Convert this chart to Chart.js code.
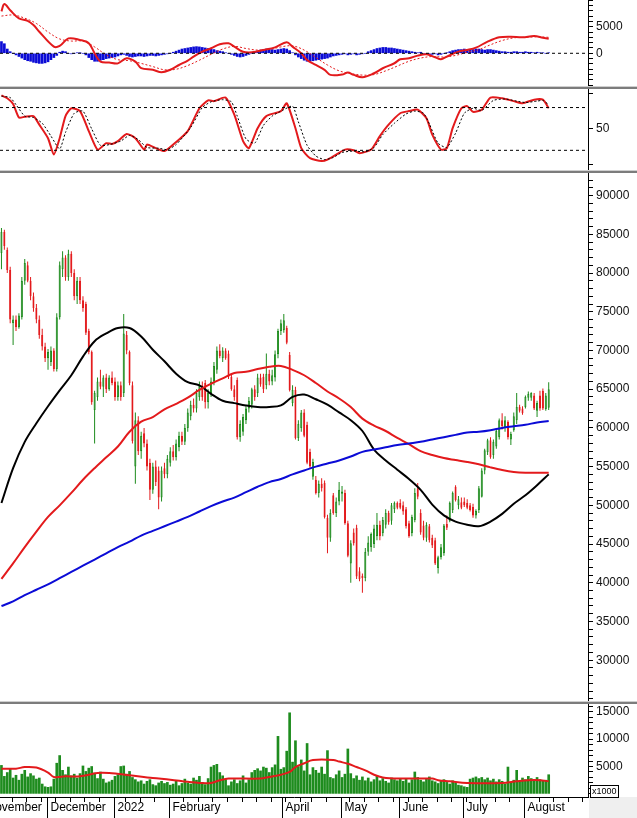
<!DOCTYPE html>
<html>
<head>
<meta charset="utf-8">
<script src="https://cdn.jsdelivr.net/npm/chart.js@4.4.1/dist/chart.umd.min.js"></script>
<style>
  html, body { margin: 0; padding: 0; background: #fff; }
  #wrap { position: relative; width: 637px; height: 818px; overflow: hidden; }
  canvas { position: absolute; left: 0; }
  .sep { position: absolute; left: 0; width: 637px; height: 3px; box-sizing: border-box;
         background: #7c7c7c; border-top: 1px solid #cfcfcf; }
</style>
</head>
<body>
<div id="wrap">
  <canvas id="macd" style="top:0px" width="637" height="86"></canvas>
  <div class="sep" style="top:86px"></div>
  <canvas id="stoch" style="top:89px" width="637" height="81"></canvas>
  <div class="sep" style="top:170px"></div>
  <canvas id="price" style="top:173px" width="637" height="528"></canvas>
  <div class="sep" style="top:701px"></div>
  <canvas id="vol" style="top:704px" width="637" height="114"></canvas>
</div>
<script>
// ---- daily candles, 9 Nov 2021 .. 11 Aug 2022 ----
const open = [
  82600,85300,83000,80400,73500,74000,73000,74300,79000,81000,
  79000,77000,75500,74000,72000,70500,69000,68500,70000,67600,
  74300,80500,82000,79500,82500,80000,77000,79000,76500,76000,
  72500,69800,62300,64000,66000,65300,66500,65000,66500,66000,
  64000,65500,64500,72000,69800,65500,55000,61000,57000,59300,
  58000,55500,52000,55000,54500,51000,54800,54000,55500,57000,
  56200,57500,59000,58200,60000,61500,63000,62500,64000,65500,
  65800,63300,64500,66000,67500,70000,69000,70000,69600,66600,
  65000,66200,58800,59500,61000,62500,63000,65000,64500,66500,
  66600,65500,67000,66000,66500,69500,72500,72600,72900,69400,
  63200,64900,58700,60000,62000,60400,56900,53700,53300,51600,
  52800,52900,48400,45800,51300,49000,50500,51500,51600,47700,
  42500,46500,47100,41500,40900,40600,44000,44600,45000,46000,
  47500,46400,47500,49000,48000,49500,50300,50300,50000,49500,
  47700,46400,48100,52200,49000,47400,45800,47300,45800,45500,
  41900,43300,43800,47600,48000,49400,52400,50000,50400,50500,
  50300,50000,49800,48700,49400,51100,54500,56900,58400,56500,
  57600,58800,61000,60000,60800,58500,59700,61000,62700,62500,
  62700,63900,63900,64200,62200,64200,64800,62400,62600
];
const high = [
  85800,85600,83300,80800,74500,74500,74800,79500,81800,81500,
  79500,77500,76000,74500,72800,71000,70200,70500,70300,74800,
  81500,82800,82300,83000,82800,80500,79500,79500,77000,76300,
  72800,70000,64800,66500,67500,66800,67000,66800,67300,66500,
  66000,66000,74700,72500,70000,66000,62000,61500,59500,60000,
  58500,56000,55500,55800,55000,55000,55500,56500,57500,57800,
  58500,59500,59500,60500,62500,63500,63800,65000,66000,66000,
  66200,65000,66500,68500,70500,70800,70400,70300,70000,67000,
  65500,66500,61000,61800,62800,64000,65200,65500,67000,67000,
  67000,69600,67500,67500,70000,72800,74000,74700,73200,69800,
  65500,65300,61000,62300,62400,60800,57300,56000,53800,53200,
  53500,53200,48800,49500,51600,51000,53000,52500,52000,48000,
  45500,47000,47500,42000,41200,44500,46000,46500,47500,49000,
  48000,48500,49500,49300,50300,50500,50500,50800,50500,49800,
  48000,48800,52200,52900,49500,48000,47800,47600,46200,45800,
  43500,45000,47600,48700,50500,51800,52600,51200,51000,51000,
  50800,50300,50200,49500,52500,54800,57300,58600,58800,58500,
  59800,61200,61900,61500,61000,59500,62000,64500,63000,62800,
  64200,64700,64600,64500,63500,64800,65100,64500,65900
];
const low = [
  80500,83000,80000,73500,70700,72500,72800,74000,78500,78800,
  76500,75000,73500,71500,70000,68500,67500,68000,67300,67300,
  74000,79500,79000,79000,79500,76500,76000,76000,75000,72000,
  69500,63000,58000,63500,65000,64000,64500,64800,65500,63500,
  63500,63500,64000,69500,65500,58000,52800,56500,56000,57500,
  54500,50700,51500,52500,49500,50500,53500,53500,55000,55800,
  55800,57000,57800,57800,59500,61000,62000,62000,63500,63500,
  62500,62500,64000,65500,67000,69000,68500,68800,66300,64800,
  63500,58500,58200,59000,60500,62000,62500,63500,64000,65300,
  64500,65000,65500,65500,66000,69000,72000,72300,70800,64700,
  62800,58500,58300,59500,58800,55300,54800,53300,51400,51000,
  51800,48300,43800,45300,48800,48500,50000,50500,47500,43300,
  40000,44800,40500,40200,38700,40200,43500,44000,44500,45500,
  45500,46000,47000,47500,47500,49000,49500,49500,48800,47000,
  45800,46000,47800,50800,46200,45500,45300,45200,44500,42300,
  41200,43000,43500,46800,47800,49000,50500,49500,49500,49800,
  49500,49200,48400,48300,49000,51000,54000,56500,56000,56000,
  57300,58500,59800,59500,58500,57800,59500,60500,62000,61700,
  62500,63500,63500,62300,61400,62200,62300,62200,62300
];
const close = [
  85300,83500,80400,74000,74000,73000,74500,79000,81300,79000,
  77000,75500,74000,72000,70500,69000,69800,70000,67600,74300,
  81000,82000,79500,82500,80000,77000,79000,76500,75500,72300,
  69800,63300,64500,66000,65300,66500,65000,66500,65800,64000,
  65500,64000,72200,70000,65800,58300,61000,57000,59000,58000,
  55000,52000,55000,53000,51000,54500,54000,56000,57000,56200,
  58000,59000,58200,60000,62000,63000,62500,64500,65500,64000,
  63300,64500,66000,68000,70000,69300,70000,69000,66600,65000,
  64000,58800,60500,61400,62500,63500,65000,64000,66500,65600,
  65000,67000,66000,66800,69500,72500,73500,73900,71000,64900,
  64900,58700,60500,62000,59000,55500,55000,55600,51600,52800,
  52200,48500,45800,49000,49000,50500,52000,51800,47700,43500,
  45100,45100,40800,40500,40600,44000,45200,46300,47000,47500,
  46000,48100,49000,47800,50000,50300,49700,49700,49200,47300,
  46000,48500,51600,51100,46500,45800,47500,45500,44800,42500,
  43300,44600,47400,47100,50300,51600,50700,50800,49700,50000,
  49700,49400,48700,49300,52200,54500,57100,58400,56200,58200,
  59600,61000,60200,61000,58800,59200,61500,62700,62200,61900,
  64000,64400,64500,62500,63200,62500,62500,64200,65000
];
const volume = [
  5200,3200,3900,4600,2900,3400,2500,3600,4300,3100,3700,3300,2700,2900,1800,1300,
  1200,1300,2700,5600,7000,4300,3500,4900,3300,3600,2900,3700,5100,4100,4700,5000,3800,2800,4000,2700,2000,2200,2500,
  3200,3500,5000,5100,3600,4100,3000,2600,2200,2400,1800,2300,2600,1700,1500,2000,2300,1900,2100,
  1600,1800,2400,1500,1900,2700,2000,1800,2900,2500,3200,2100,1700,2800,4900,5200,
  5400,3900,3300,2600,1500,2200,2600,1900,2400,3300,2000,2600,3900,4300,4600,4200,4900,4700,3900,4800,5300,10500,4500,
  4800,7800,14800,5800,9700,5000,6200,4200,9200,3500,4800,4300,3800,4900,3600,7900,3000,2800,3500,4200,
  3000,3600,8200,3700,2800,3300,2500,3100,2400,2900,2200,2600,3300,2400,2800,2300,2000,2900,2600,2400,
  2800,2300,2700,2000,2600,4000,3000,2500,2200,2800,3100,2400,2200,1900,2300,2600,2100,1800,2400,2000,1600,1500,
  1300,1200,2700,2900,3100,2800,3000,2600,2900,2400,2700,2200,2600,2300,1800,4900,2100,2500,4300,2400,2900,
  2600,3200,2800,2500,3000,2600,2300,2500,3500
];
const macdHist = [
  2200,1800,800, 300,0,-300,
  -600,-900,-1200,-1400,-1500,-1700,-1800,-1900,-1900,-1800,-1600,-1200,-800,-400,
  200,400,300,0,-100,0,100,100,0,
  -300,-800,-1200,-1500,-1500,-1300,-1200,-1000,-900,-800,-700,-500,
  -300,-200,-400,-600,-700,-600,-500,-500,-600,-500,-400,-400,-500,-400,-300,-200,-100,0,
  200,400,600,800,900,1000,1100,1200,1250,1200,1100,1000,900,800,700,500,400,300,100,0,
  -200,-400,-600,-700,-600,-400,-200,0,
  200,400,600,700,800,800,700,600,700,800,900,800,500,100,
  -300,-700,-1000,-1300,-1500,-1500,-1400,-1300,-1200,-1100,-1000,-900,-700,-500,-400,
  -300,-200,-100,-300,-200,-100,-300,-200,-100,0,
  300,500,700,900,1000,1100,1100,1000,1000,900,800,700,600,500,400,300,200,100,
  200,0,-200,-300,-200,-100,-300,-200,0,
  100,300,500,600,700,700,800,700,600,700,800,800,700,600,700,700,600,500,400,300,300,200,
  200,300,300,200,200,300,200,200,100,200,100,100,0,100
];

// ---- indicator lines: [bar index, value] ----
const maBlack = [[0,50300],[4,54800],[8,58200],[12,60600],[16,62800],[20,64850],[24,66800],[28,69200],[32,71200],[36,72200],[40,72900],[44,72900],[48,71800],[52,70100],[56,68600],[60,67000],[64,65900],[68,65500],[72,64400],[76,63500],[80,63200],[84,62900],[88,62700],[92,62700],[96,62900],[100,64000],[104,64300],[108,63700],[112,63000],[116,62000],[120,61000],[124,59600],[128,57200],[132,55800],[136,54600],[140,53400],[144,52000],[148,50100],[152,48700],[156,47900],[160,47500],[164,47300],[168,47900],[172,48900],[176,50200],[180,51300],[184,52600],[188,54000]];
const maRed = [[0,40500],[4,42500],[8,44600],[12,46600],[16,48500],[20,50000],[24,51600],[28,53300],[32,54800],[36,56200],[40,57600],[44,59500],[48,60800],[52,61400],[56,62400],[60,63100],[64,63900],[68,64900],[72,65700],[76,66400],[80,67100],[84,67250],[88,67600],[92,67900],[96,68000],[100,67500],[104,66800],[108,65800],[112,64700],[116,63800],[120,62700],[124,61200],[128,60300],[132,59600],[136,58700],[140,57900],[144,57000],[148,56500],[152,56100],[156,55850],[160,55600],[164,55300],[168,54900],[172,54550],[176,54300],[180,54200],[184,54200],[188,54200]];
const maBlue = [[0,37000],[4,37600],[8,38400],[12,39100],[16,39800],[20,40600],[24,41400],[28,42200],[32,43000],[36,43800],[40,44600],[44,45300],[48,46100],[52,46700],[56,47300],[60,47900],[64,48500],[68,49200],[72,49900],[76,50500],[80,51000],[84,51700],[88,52400],[92,53000],[96,53400],[100,54000],[104,54500],[108,55000],[112,55400],[116,55800],[120,56300],[124,56900],[128,57200],[132,57500],[136,57800],[140,58000],[144,58200],[148,58500],[152,58800],[156,59100],[160,59400],[164,59500],[168,59700],[172,60000],[176,60200],[180,60400],[184,60700],[188,60900]];
const volMa = [[0,4600],[5,4600],[8,4900],[12,4800],[16,3900],[18,3100],[22,3200],[27,3200],[33,3800],[37,3800],[44,3400],[52,2900],[58,2600],[64,2200],[68,2000],[72,2000],[75,2500],[78,2800],[89,2800],[92,3100],[96,3500],[99,4000],[101,4900],[104,5600],[107,6200],[114,6200],[116,5900],[119,5500],[122,4900],[125,4300],[128,3500],[131,3000],[137,2800],[148,2800],[150,2500],[154,2300],[160,2000],[172,2000],[177,2300],[181,2500],[185,2500],[188,2300]];
const macdLine = [[0,7900],[1,9250],[3,8100],[6,6560],[9,6100],[11,5300],[13,4060],[18,1250],[20,1375],[23,2800],[27,2500],[30,1900],[32,0],[34,-1560],[37,-1750],[40,-1900],[43,-940],[46,-1560],[48,-2800],[52,-3100],[55,-3560],[58,-3100],[61,-2200],[64,-1370],[66,-620],[69,300],[72,940],[75,1690],[78,1870],[80,1250],[83,300],[86,190],[90,620],[94,1120],[98,2060],[100,1250],[103,0],[105,-1250],[108,-2190],[111,-3120],[113,-4060],[117,-4000],[119,-3620],[121,-4060],[124,-4500],[128,-3750],[131,-2810],[135,-1870],[137,-1120],[140,-940],[143,-440],[146,-190],[149,-750],[151,-1120],[153,-620],[157,310],[160,620],[163,1060],[167,2190],[171,3000],[175,3120],[179,3000],[183,3250],[186,2940],[188,2750]];
const macdSignal = [[0,7000],[4,7200],[8,6600],[12,5600],[16,4000],[20,2700],[24,2300],[28,2300],[32,1200],[36,-300],[40,-1200],[44,-1400],[48,-1900],[52,-2500],[56,-3100],[60,-3000],[64,-2300],[68,-1300],[72,-200],[76,800],[80,1300],[84,900],[88,600],[92,700],[96,1200],[100,1400],[104,600],[108,-800],[112,-2200],[116,-3300],[120,-3800],[124,-4100],[128,-4000],[132,-3300],[136,-2400],[140,-1500],[144,-900],[148,-600],[152,-700],[156,-400],[160,200],[164,700],[168,1600],[172,2400],[176,2900],[180,3000],[184,3100],[188,3000]];
const stochK = [[0,97],[2,93],[4,85],[6,66],[8,67],[11,68],[13,56],[16,37],[18,14],[20,37],[22,68],[24,79],[27,75],[30,47],[33,21],[36,30],[38,29],[40,33],[43,43],[46,37],[49,21],[50,28],[53,23],[56,19],[59,28],[64,47],[68,79],[71,90],[73,89],[77,94],[80,70],[83,33],[85,23],[88,51],[91,68],[96,75],[98,86],[101,51],[103,23],[106,9],[110,5],[112,7],[115,14],[118,21],[121,20],[123,16],[127,21],[130,40],[133,56],[137,72],[140,75],[143,77],[146,65],[148,42],[151,21],[153,23],[155,51],[158,79],[160,82],[162,74],[165,77],[168,94],[172,93],[176,89],[179,86],[183,91],[186,91],[188,79]];
const stochD = [[0,96],[3,94],[5,84],[8,68],[11,66],[14,58],[17,40],[20,22],[22,45],[25,72],[28,75],[31,50],[34,27],[37,28],[41,33],[44,41],[47,35],[50,24],[54,23],[57,21],[60,28],[65,52],[69,80],[72,88],[76,91],[79,88],[81,68],[84,36],[87,30],[90,55],[93,68],[97,77],[100,82],[102,60],[105,27],[108,12],[111,7],[114,10],[117,17],[121,19],[125,18],[128,24],[131,42],[135,58],[139,71],[142,75],[145,72],[147,57],[150,30],[153,24],[156,44],[159,72],[162,79],[165,76],[169,90],[173,92],[177,89],[180,87],[184,89],[186,90],[188,84]];
const stochLevels = [20, 80];
const macdLevels = [0];

// ---- calendar for the time axis ----
const monthLabels = ['2022','February','','April','May','June','July','August','September','October','November','December'];
const holidays = new Set(['2022-01-03','2022-01-31','2022-02-01','2022-02-02','2022-02-03','2022-02-04',
                          '2022-04-11','2022-05-02','2022-05-03','2022-09-01','2022-09-02']);
const FIRST = 6;   // November sessions before the first bar on screen
const days = [];
for (let d = new Date(Date.UTC(2021, 10, 1)); days.length < 220; d.setUTCDate(d.getUTCDate() + 1)) {
  const wd = d.getUTCDay();
  if (wd === 0 || wd === 6 || holidays.has(d.toISOString().slice(0, 10))) continue;
  days.push({ m: d.getUTCMonth(), wd });
}
const monthStarts = [], weekStarts = [];
days.forEach((d, k) => {
  const slot = k - FIRST;
  if (k === 0 || d.m !== days[k - 1].m) { if (monthLabels[d.m]) monthStarts.push({ slot, label: monthLabels[d.m] }); }
  else if (d.wd < days[k - 1].wd) weekStarts.push(slot);
});

// ---- chart setup ----
Chart.defaults.font.family = "'Liberation Sans', Arial, sans-serif";
Chart.defaults.font.size = 12;
Chart.defaults.color = '#111';

const X_MIN = -0.5, X_MAX = 201.5;
const GREEN = '#1e8c1e', RED = '#e31a1c', BLUE = '#0b0bd6';
const bars = close.map((c, i) => i);
const up = close.map((c, i) => c >= open[i]);

function yAxis(min, max, step, labelIf) {
  return {
    position: 'right', min, max,
    afterFit(s) { s.width = 49; s.paddingTop = 0; s.paddingBottom = 0; },
    afterBuildTicks(s) {
      const t = [];
      for (let v = Math.ceil(min / step) * step; v <= max; v += step) t.push({ value: v });
      s.ticks = t;
    },
    border: { display: true, color: '#000', width: 1 },
    grid: { drawOnChartArea: false, drawTicks: true, tickLength: 5, color: '#000', tickColor: '#000' },
    ticks: { autoSkip: false, padding: 3, maxRotation: 0,
             callback: v => (labelIf(v) ? String(v) : '') }
  };
}
const line = (pairs, color, width, dash, tension) => ({
  type: 'line', data: pairs.map(([x, y]) => ({ x, y })), borderColor: color, borderWidth: width,
  borderDash: dash || [], pointRadius: 0, tension: tension === undefined ? 0.35 : tension, fill: false, order: 0
});
const level = v => line([[X_MIN, v], [X_MAX, v]], '#000', 1, [3, 3], 0);

function panel(id, datasets, y, bottom, plugins) {
  return new Chart(document.getElementById(id), {
    type: 'bar',
    data: { datasets },
    options: {
      responsive: false, animation: false, events: [], devicePixelRatio: 1,
      layout: { padding: { left: 0, right: 0, top: 0, bottom: bottom || 0 } },
      plugins: { legend: { display: false }, tooltip: { enabled: false } },
      scales: { x: { type: 'linear', min: X_MIN, max: X_MAX, display: false, offset: false }, y }
    },
    plugins: plugins || []
  });
}

// MACD
panel('macd', [
  ...macdLevels.map(level),
  line(macdSignal, RED, 1, [2, 2]),
  line(macdLine, RED, 2),
  { type: 'bar', data: bars.map(i => ({ x: i, y: macdHist[i] })), backgroundColor: BLUE, barThickness: 2, order: 5 }
], yAxis(-6150, 10020, 1000, v => v === 0 || v === 5000));

// Stochastic
panel('stoch', [
  ...stochLevels.map(level),
  line(stochD, '#000', 1, [2, 2], 0.2),
  line(stochK, RED, 2, [], 0.2)
], yAxis(-7.6, 106, 50, v => v === 50));

// Price with moving averages
panel('price', [
  line(maBlue, BLUE, 2),
  line(maRed, RED, 2),
  line(maBlack, '#000', 2),
  { type: 'bar', grouped: false, maxBarThickness: 3, order: 2, borderSkipped: false, borderWidth: 1,
    data: bars.map(i => ({ x: i, y: [Math.min(open[i], close[i]), Math.max(open[i], close[i])] })),
    backgroundColor: bars.map(i => (up[i] ? '#ffffff' : RED)),
    borderColor: bars.map(i => (up[i] ? GREEN : RED)) },
  { type: 'bar', grouped: false, maxBarThickness: 1, order: 3, borderWidth: 0,
    data: bars.map(i => ({ x: i, y: [low[i], high[i]] })),
    backgroundColor: bars.map(i => (up[i] ? GREEN : RED)) }
], yAxis(24731, 92919, 1000, v => v >= 30000 && v % 5000 === 0));

// Volume + time axis strip
const timeStrip = {
  id: 'timeStrip',
  afterDraw(chart) {
    const { ctx, chartArea: a, scales: { x } } = chart;
    const top = a.bottom, h = chart.height - a.bottom;
    const edge = s => Math.round(x.getPixelForValue(s - 0.5)) + 0.5;
    ctx.save();
    ctx.fillStyle = '#efefef';
    ctx.fillRect(a.right + 1, top, chart.width - a.right - 1, h);
    ctx.strokeStyle = '#000';
    ctx.lineWidth = 1;
    ctx.beginPath();
    ctx.moveTo(0, top + 0.5); ctx.lineTo(a.right + 1, top + 0.5);
    weekStarts.forEach(s => { const px = edge(s); if (px > 0 && px < a.right) { ctx.moveTo(px, top); ctx.lineTo(px, top + 5); } });
    monthStarts.forEach(m => { const px = edge(m.slot); if (px > 0 && px < a.right) { ctx.moveTo(px, top); ctx.lineTo(px, chart.height); } });
    ctx.stroke();
    ctx.fillStyle = '#000';
    ctx.font = "12px 'Liberation Sans', Arial, sans-serif";
    ctx.textAlign = 'left';
    ctx.textBaseline = 'middle';
    monthStarts.forEach(m => { const px = edge(m.slot); if (px < a.right - 20) ctx.fillText(m.label, px + 3, top + 11); });
    // unit box
    ctx.fillStyle = '#fff';
    ctx.fillRect(a.right + 2, top - 12, 29, 12);
    ctx.strokeRect(a.right + 2.5, top - 11.5, 28, 12);
    ctx.fillStyle = '#000';
    ctx.font = "9px 'Liberation Sans', Arial, sans-serif";
    ctx.fillText('x1000', a.right + 4, top - 5);
    ctx.restore();
  }
};
panel('vol', [
  line(volMa, RED, 2),
  { type: 'bar', data: bars.map(i => ({ x: i, y: volume[i] })), backgroundColor: GREEN, barThickness: 2, order: 5 }
], yAxis(-566, 16405, 1000, v => v > 0 && v % 5000 === 0), 21, [timeStrip]);
</script>
</body>
</html>
